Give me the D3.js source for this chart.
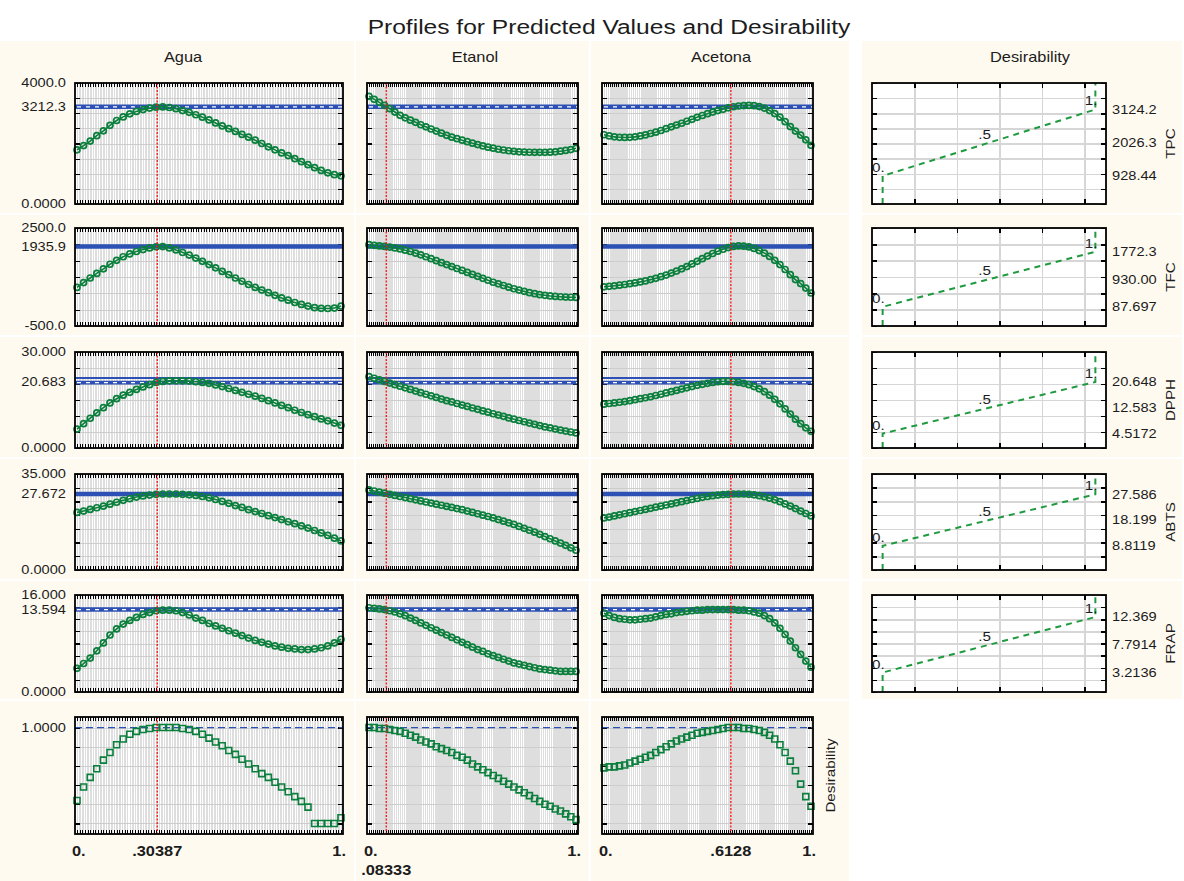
<!DOCTYPE html>
<html><head><meta charset="utf-8">
<script src="https://cdn.jsdelivr.net/npm/d3@7"></script>
<style>html,body{margin:0;padding:0;background:#fff;}svg{display:block;}text{font-family:"Liberation Sans",Arial,sans-serif;}</style>
</head><body><svg id="chart" width="1184" height="881"></svg>
<script>
// ---------------- DATA ----------------
const chartTitle = "Profiles for Predicted Values and Desirability";
const factors = ["Agua", "Etanol", "Acetona"];
const responses = ["TPC", "TFC", "DPPH", "ABTS", "FRAP"];
const currentLevels = [0.30387, 0.08333, 0.6128];
const currentLevelLabels = [".30387", ".08333", ".6128"];
const levels = [0,0.025,0.05,0.075,0.1,0.125,0.15,0.175,0.2,0.225,0.25,0.275,0.3,0.325,0.35,0.375,0.4,0.425,0.45,0.475,0.5,0.525,0.55,0.575,0.6,0.625,0.65,0.675,0.7,0.725,0.75,0.775,0.8,0.825,0.85,0.875,0.9,0.925,0.95,0.975,1];

const tpcAgua = [1790,1930,2080,2260,2420,2600,2760,2880,2980,3060,3120,3170,3200,3210,3190,3150,3090,3030,2950,2870,2780,2680,2580,2490,2400,2300,2210,2110,2000,1890,1790,1690,1600,1500,1400,1300,1200,1110,1030,970,930];
const tpcEtanol = [3560,3460,3360,3260,3150,3040,2930,2850,2770,2700,2620,2550,2480,2410,2340,2270,2210,2160,2110,2060,2010,1965,1920,1880,1845,1810,1785,1760,1740,1725,1715,1710,1708,1707,1708,1712,1725,1745,1770,1800,1840];
const tpcAcetona = [2290,2250,2220,2205,2200,2205,2220,2250,2285,2330,2375,2430,2490,2550,2610,2670,2735,2800,2865,2925,2985,3040,3090,3130,3180,3215,3240,3255,3260,3250,3220,3170,3090,2990,2870,2720,2560,2410,2280,2120,1940];
const tfcAgua = [680,830,970,1110,1250,1390,1510,1620,1710,1780,1840,1890,1925,1930,1890,1830,1750,1670,1580,1480,1380,1280,1170,1070,970,870,770,680,600,520,440,360,290,220,160,110,60,40,35,50,110];
const tfcEtanol = [1990,1970,1950,1935,1915,1890,1860,1820,1780,1730,1680,1620,1560,1500,1440,1380,1320,1260,1200,1140,1080,1020,960,900,840,790,740,690,640,600,560,520,490,460,440,420,405,395,385,380,375];
const tfcAcetona = [700,715,730,750,770,795,820,850,880,920,960,1010,1060,1120,1180,1250,1320,1400,1480,1560,1640,1720,1790,1850,1900,1935,1950,1945,1920,1875,1810,1730,1630,1510,1380,1230,1070,920,800,660,510];
const dpphAgua = [5.9,7.6,9.3,11.0,12.6,14.1,15.4,16.5,17.4,18.3,19.1,19.8,20.5,20.8,21.0,21.0,21.0,20.9,20.7,20.5,20.2,19.7,19.2,18.6,18.0,17.4,16.8,16.2,15.5,14.8,14.1,13.3,12.6,11.8,11.1,10.4,9.8,9.1,8.5,7.8,7.1];
const dpphEtanol = [22.3,21.8,21.3,20.8,20.3,19.8,19.3,18.8,18.3,17.8,17.3,16.8,16.3,15.8,15.3,14.8,14.4,13.9,13.4,13.0,12.5,12.1,11.6,11.2,10.7,10.3,9.9,9.4,9.0,8.6,8.2,7.8,7.4,7.0,6.6,6.3,5.9,5.6,5.3,5.0,4.7];
const dpphAcetona = [13.7,13.9,14.1,14.3,14.5,14.8,15.1,15.4,15.7,16.0,16.4,16.8,17.2,17.6,18.0,18.4,18.8,19.2,19.6,19.9,20.2,20.5,20.7,20.8,20.8,20.7,20.5,20.2,19.8,19.2,18.5,17.6,16.5,15.2,13.8,12.2,10.6,9.0,7.6,6.3,5.2];
const abtsAgua = [21.0,21.5,22.1,22.7,23.3,24.0,24.7,25.4,26.0,26.6,27.0,27.3,27.6,27.7,27.7,27.7,27.6,27.4,27.2,26.8,26.3,25.7,25.0,24.3,23.5,22.8,22.0,21.3,20.6,19.8,19.1,18.4,17.6,16.9,16.1,15.3,14.4,13.5,12.6,11.6,10.6];
const abtsEtanol = [29.2,28.8,28.4,28.0,27.6,27.2,26.8,26.4,26.0,25.6,25.2,24.8,24.4,24.0,23.6,23.2,22.8,22.4,22.0,21.5,21.0,20.5,20.0,19.5,19.0,18.4,17.8,17.2,16.6,15.9,15.2,14.5,13.8,13.0,12.2,11.4,10.6,9.8,9.0,8.1,7.2];
const abtsAcetona = [19.0,19.3,19.7,20.1,20.5,20.9,21.3,21.7,22.1,22.5,22.9,23.3,23.7,24.1,24.5,24.9,25.3,25.7,26.1,26.5,26.8,27.1,27.3,27.5,27.6,27.7,27.7,27.7,27.6,27.4,27.1,26.7,26.2,25.6,24.9,24.1,23.3,22.4,21.5,20.6,19.7];
const frapAgua = [3.9,4.7,5.6,6.8,8.1,9.4,10.4,11.2,11.8,12.3,12.8,13.1,13.4,13.5,13.5,13.4,13.1,12.7,12.2,11.8,11.3,10.9,10.5,10.1,9.7,9.3,8.9,8.5,8.2,7.9,7.6,7.4,7.2,7.1,7.0,7.0,7.1,7.3,7.6,8.1,8.7];
const frapEtanol = [13.9,13.8,13.7,13.6,13.4,13.2,12.9,12.6,12.2,11.8,11.4,11.0,10.6,10.2,9.8,9.4,9.0,8.6,8.2,7.8,7.4,7.0,6.7,6.3,6.0,5.7,5.4,5.1,4.8,4.6,4.4,4.2,4.0,3.8,3.7,3.6,3.5,3.4,3.4,3.4,3.4];
const frapAcetona = [13.0,12.6,12.3,12.1,12.0,11.9,11.9,12.0,12.1,12.2,12.4,12.6,12.8,12.9,13.1,13.2,13.3,13.4,13.5,13.5,13.6,13.6,13.6,13.6,13.6,13.6,13.5,13.5,13.4,13.2,13.0,12.6,12.1,11.4,10.5,9.5,8.4,7.3,6.2,5.1,4.1];
const desAgua = [0.24,0.38,0.48,0.57,0.66,0.74,0.82,0.88,0.93,0.96,0.98,0.99,1.00,1.00,1.00,1.00,0.99,0.98,0.96,0.93,0.89,0.85,0.81,0.76,0.72,0.67,0.62,0.57,0.52,0.48,0.43,0.38,0.33,0.28,0.23,0.17,0.00,0.00,0.00,0.00,0.06];
const desEtanol = [1.00,1.00,0.99,0.99,0.98,0.97,0.96,0.94,0.92,0.90,0.87,0.85,0.83,0.80,0.78,0.76,0.74,0.71,0.69,0.66,0.62,0.59,0.56,0.53,0.50,0.47,0.44,0.41,0.38,0.35,0.32,0.29,0.26,0.23,0.20,0.18,0.15,0.13,0.10,0.07,0.04];
const desAcetona = [0.58,0.59,0.59,0.60,0.61,0.63,0.65,0.67,0.69,0.71,0.74,0.77,0.80,0.83,0.86,0.88,0.90,0.92,0.94,0.95,0.96,0.97,0.98,0.99,1.00,1.00,1.00,0.99,0.99,0.98,0.97,0.95,0.92,0.88,0.82,0.74,0.65,0.55,0.41,0.28,0.18];

// y axis ranges and labels per row
const yDomains = [[0,4000],[-500,2500],[0,30],[0,35],[0,16],[-0.11,1.11]];
const yTickSteps = [500,500,5,5,2,0.2];
const yMaxLabels = ["4000.0","2500.0","30.000","35.000","16.000"];
const yMinLabels = ["0.0000","-500.0","0.0000","0.0000","0.0000"];
const predictedValues = [3212.3, 1935.9, 20.683, 27.672, 13.594];
const predictedLabels = ["3212.3","1935.9","20.683","27.672","13.594"];
const dpphUpperLine = 21.9;
const desirabilityTarget = 1.0;
const desirabilityTargetLabel = "1.0000";
// desirability function anchors: [low (d=0), mid (d=.5), high (d=1)]
const desirLow = [928.44, 87.697, 4.5172, 8.8119, 3.2136];
const desirMid = [2026.3, 930.00, 12.583, 18.199, 7.7914];
const desirHigh = [3124.2, 1772.3, 20.648, 27.586, 12.369];
const desirLowLabels = ["928.44","87.697","4.5172","8.8119","3.2136"];
const desirMidLabels = ["2026.3","930.00","12.583","18.199","7.7914"];
const desirHighLabels = ["3124.2","1772.3","20.648","27.586","12.369"];
const desirLevels = [0, 0.5, 1];
const desirLevelLabels = ["0.", ".5", "1."];
const desirGridTicks = [0.15, 0.35, 0.55, 0.75, 0.95];

const seriesByRow = [
  [tpcAgua, tpcEtanol, tpcAcetona],
  [tfcAgua, tfcEtanol, tfcAcetona],
  [dpphAgua, dpphEtanol, dpphAcetona],
  [abtsAgua, abtsEtanol, abtsAcetona],
  [frapAgua, frapEtanol, frapAcetona],
  [desAgua, desEtanol, desAcetona]
];

// ---------------- LAYOUT / STYLE ----------------
const W = 1184, H = 881;
const CREAM = "#fffaf0", GREEN = "#0b7f3c", DGREEN = "#1f9a3e", BLUE = "#2c50b4", RED = "#ff1010", INK = "#1c1c1c";
const SX = 1.17;
const colX = [[75,343],[367,578],[602,813]];
const desX = [872,1106];
const rowY = [[83,204],[228,326],[352,448],[474,570],[595,692],[717,834]];
const cellCols = [[0,354],[356,589],[591,849],[862,1182]];
const cellRows = [[41,213],[215,335],[337,457],[459,579],[581,699],[701,881]];
const headerX = [183,475,721,1030];

const svg = d3.select("#chart");
svg.append("rect").attr("width", W).attr("height", H).attr("fill", "#fff");

function label(parent, x, y, str, o = {}) {
  return parent.append("text")
    .attr("transform", `translate(${x},${y})` + (o.rotate ? ` rotate(${o.rotate})` : "") + ` scale(${o.sx ?? SX},1)`)
    .attr("text-anchor", o.anchor || "start")
    .attr("dy", o.dy ?? "0.35em")
    .attr("font-size", o.size || 12.5)
    .attr("font-weight", o.weight || "normal")
    .attr("fill", o.fill || INK)
    .text(str);
}

// cells
cellRows.forEach((r, ri) => cellCols.forEach((c, ci) => {
  if (ci === 3 && ri === 5) return;
  svg.append("rect").attr("x", c[0]).attr("y", r[0]).attr("width", c[1] - c[0]).attr("height", r[1] - r[0]).attr("fill", CREAM);
}));

// title and headers
label(svg, 609, 27, chartTitle, { size: 21, anchor: "middle" });
factors.forEach((f, i) => label(svg, headerX[i], 57, f, { size: 14, anchor: "middle" }));
label(svg, headerX[3], 57, "Desirability", { size: 14, anchor: "middle" });

function yTicksFor(r) {
  const [a, b] = yDomains[r];
  const s = yTickSteps[r];
  const start = r === 5 ? 0 : a;
  const end = r === 5 ? 1 : b;
  return d3.range(start, end + s / 2, s);
}

function axisLines(sel, color, width) {
  sel.select(".domain").remove();
  sel.selectAll("line").attr("stroke", color).attr("stroke-width", width).attr("shape-rendering", "crispEdges");
}

// profile panels
seriesByRow.forEach((rowSeries, r) => {
  const [y0, y1] = rowY[r];
  const y = d3.scaleLinear().domain(yDomains[r]).range([y1, y0]);
  const yt = yTicksFor(r);
  rowSeries.forEach((vals, c) => {
    const [x0, x1] = colX[c];
    const x = d3.scaleLinear().domain([0, 1]).range([x0 + 2, x1 - 2]);
    const g = svg.append("g");
    g.append("rect").attr("x", x0).attr("y", y0).attr("width", x1 - x0).attr("height", y1 - y0).attr("fill", "#fff");
    const clip = g.append("g");
    // dense vertical grid
    clip.append("g").attr("transform", `translate(0,${y1})`)
      .call(d3.axisBottom(x).tickValues(x.ticks(100)).tickSize(-(y1 - y0)).tickFormat(""))
      .call(s => axisLines(s, "#dedede", 1.6));
    // horizontal grid
    clip.append("g").attr("transform", `translate(${x0},0)`)
      .call(d3.axisLeft(y).tickValues(yt).tickSize(-(x1 - x0)).tickFormat(""))
      .call(s => axisLines(s, "#cdcdcd", 1));
    // edge ticks
    clip.append("g").attr("transform", `translate(0,${y0})`)
      .call(d3.axisTop(x).tickValues(x.ticks(100)).tickSize(-4).tickFormat(""))
      .call(s => axisLines(s, "#000", 1));
    clip.append("g").attr("transform", `translate(0,${y1})`)
      .call(d3.axisBottom(x).tickValues(x.ticks(100)).tickSize(-4).tickFormat(""))
      .call(s => axisLines(s, "#000", 1));
    clip.append("g").attr("transform", `translate(${x0},0)`)
      .call(d3.axisLeft(y).tickValues(yt).tickSize(-5).tickFormat(""))
      .call(s => axisLines(s, "#000", 1.2));
    clip.append("g").attr("transform", `translate(${x1},0)`)
      .call(d3.axisRight(y).tickValues(yt).tickSize(-5).tickFormat(""))
      .call(s => axisLines(s, "#000", 1.2));

    // reference lines
    if (r < 5) {
      const py = y(predictedValues[r]);
      if (r === 2) {
        g.append("line").attr("x1", x0).attr("x2", x1).attr("y1", y(dpphUpperLine)).attr("y2", y(dpphUpperLine)).attr("stroke", BLUE).attr("stroke-width", 2);
      }
      const bandW = r === 2 ? 3.8 : 4.5;
      const by = r === 2 ? py + 0.8 : py;
      g.append("line").attr("x1", x0).attr("x2", x1).attr("y1", by).attr("y2", by).attr("stroke", BLUE).attr("stroke-width", bandW);
      if (r === 0 || r === 2 || r === 4) {
        g.append("line").attr("x1", x0 + 2).attr("x2", x1).attr("y1", by).attr("y2", by).attr("stroke", "#fff").attr("stroke-width", 1.3).attr("stroke-dasharray", "4,5");
      }
    } else {
      const py = y(desirabilityTarget);
      g.append("line").attr("x1", x0).attr("x2", x1).attr("y1", py).attr("y2", py).attr("stroke", BLUE).attr("stroke-width", 1.2).attr("stroke-dasharray", "7,4");
    }

    // markers
    const pts = levels.map((t, i) => [x(t), y(vals[i])]);
    if (r < 5) {
      g.append("path").attr("d", d3.line().curve(d3.curveMonotoneX)(pts))
        .attr("fill", "none").attr("stroke", GREEN).attr("stroke-width", 1.6);
      g.append("g").selectAll("circle").data(pts).join("circle")
        .attr("cx", d => d[0]).attr("cy", d => d[1]).attr("r", 3)
        .attr("fill", "none").attr("stroke", GREEN).attr("stroke-width", 1.7);
    } else {
      const sym = d3.symbol().type(d3.symbolSquare).size(36);
      g.append("g").selectAll("path").data(pts).join("path")
        .attr("transform", d => `translate(${d[0]},${d[1]})`).attr("d", sym)
        .attr("fill", "none").attr("stroke", GREEN).attr("stroke-width", 1.6);
    }

    // current level line
    const cx = x(currentLevels[c]);
    g.append("line").attr("x1", cx).attr("x2", cx).attr("y1", y0).attr("y2", y1).attr("stroke", RED).attr("stroke-width", 1.3).attr("stroke-dasharray", "2,1.5");

    // border
    g.append("rect").attr("x", x0).attr("y", y0).attr("width", x1 - x0).attr("height", y1 - y0)
      .attr("fill", "none").attr("stroke", "#000").attr("stroke-width", 1.8);

    // y labels on first column
    if (c === 0) {
      const lx = x0 - 9;
      if (r < 5) {
        label(svg, lx, y(yDomains[r][1]), yMaxLabels[r], { anchor: "end" });
        label(svg, lx, y(yDomains[r][0]), yMinLabels[r], { anchor: "end" });
        label(svg, lx, y(predictedValues[r]), predictedLabels[r], { anchor: "end" });
      } else {
        label(svg, lx, y(desirabilityTarget), desirabilityTargetLabel, { anchor: "end" });
      }
    }
    // x labels on bottom row
    if (r === 5) {
      const by = 851;
      label(svg, x0 - 3, by, "0.", { size: 14, weight: "bold" });
      label(svg, x1 + 3, by, "1.", { size: 14, weight: "bold", anchor: "end" });
      const second = (cx - x0) < 30;
      label(svg, cx, second ? by + 19 : by, currentLevelLabels[c], { size: 14, weight: "bold", anchor: "middle" });
    }
  });
});

// rotated label for desirability row
label(svg, 830, (rowY[5][0] + rowY[5][1]) / 2, "Desirability", { size: 13, anchor: "middle", rotate: -90 });

// desirability function panels
responses.forEach((name, r) => {
  const [y0, y1] = rowY[r];
  const [x0, x1] = desX;
  const y = d3.scaleLinear().domain(yDomains[r]).range([y1, y0]);
  const xd = d3.scaleLinear().domain([-0.05, 1.05]).range([x0, x1]);
  const yt = yTicksFor(r);
  const g = svg.append("g");
  g.append("rect").attr("x", x0).attr("y", y0).attr("width", x1 - x0).attr("height", y1 - y0).attr("fill", "#fff");
  g.append("g").attr("transform", `translate(0,${y1})`)
    .call(d3.axisBottom(xd).tickValues(desirGridTicks).tickSize(-(y1 - y0)).tickFormat(""))
    .call(s => axisLines(s, "#d6d6d6", 1.5));
  g.append("g").attr("transform", `translate(${x0},0)`)
    .call(d3.axisLeft(y).tickValues(yt).tickSize(-(x1 - x0)).tickFormat(""))
    .call(s => axisLines(s, "#d6d6d6", 1.5));
  g.append("g").attr("transform", `translate(0,${y0})`)
    .call(d3.axisTop(xd).tickValues(desirGridTicks).tickSize(-5).tickFormat(""))
    .call(s => axisLines(s, "#000", 1.5));
  g.append("g").attr("transform", `translate(0,${y1})`)
    .call(d3.axisBottom(xd).tickValues(desirGridTicks).tickSize(-5).tickFormat(""))
    .call(s => axisLines(s, "#000", 1.5));
  g.append("g").attr("transform", `translate(${x0},0)`)
    .call(d3.axisLeft(y).tickValues(yt).tickSize(-5).tickFormat(""))
    .call(s => axisLines(s, "#000", 1.5));
  g.append("g").attr("transform", `translate(${x1},0)`)
    .call(d3.axisRight(y).tickValues(yt).tickSize(-5).tickFormat(""))
    .call(s => axisLines(s, "#000", 1.5));

  const anchors = [desirLow[r], desirMid[r], desirHigh[r]];
  const path = [[0, yDomains[r][0]], [0, anchors[0]], [0.5, anchors[1]], [1, anchors[2]], [1, yDomains[r][1]]];
  g.append("path").attr("d", d3.line().x(d => xd(d[0])).y(d => y(d[1]))(path))
    .attr("fill", "none").attr("stroke", DGREEN).attr("stroke-width", 2).attr("stroke-dasharray", "6,5");
  desirLevels.forEach((d, i) => {
    label(g, xd(d) + 2, y(anchors[i]) - 4, desirLevelLabels[i], { size: 13, anchor: "end", dy: "0" });
  });
  g.append("rect").attr("x", x0).attr("y", y0).attr("width", x1 - x0).attr("height", y1 - y0)
    .attr("fill", "none").attr("stroke", "#000").attr("stroke-width", 1.8);

  const labs = [desirLowLabels[r], desirMidLabels[r], desirHighLabels[r]];
  anchors.forEach((v, i) => label(svg, x1 + 6, y(v), labs[i]));
  label(svg, 1170, (y0 + y1) / 2, name, { size: 13, anchor: "middle", rotate: -90 });
});
</script>
</body></html>
